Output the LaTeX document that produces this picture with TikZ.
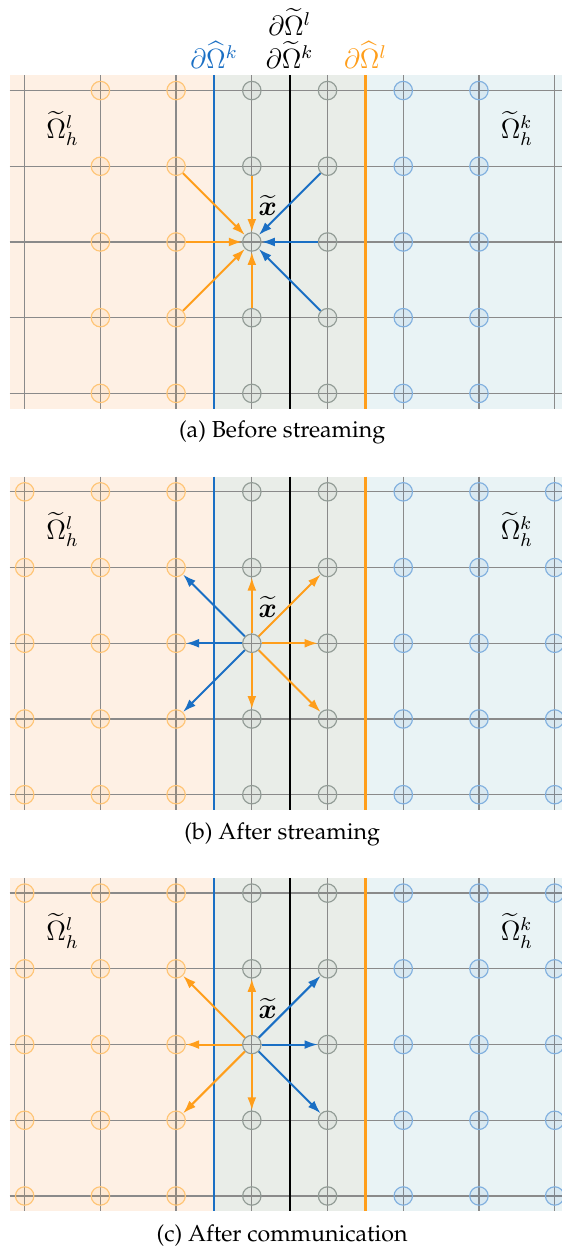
\documentclass[tikz,border=0pt]{standalone}
\usepackage[T1]{fontenc}
\renewcommand{\rmdefault}{ppl}
\usepackage{amsmath}
\usetikzlibrary{arrows.meta}

\definecolor{lorange}{HTML}{FF9E1B}
\definecolor{kblue}{HTML}{1A6FC4}
\definecolor{mgray}{HTML}{7F8A84}
\definecolor{lfill}{HTML}{FEF0E4}
\definecolor{mfill}{HTML}{E9EDE8}
\definecolor{kfill}{HTML}{E9F3F5}
\definecolor{gridgray}{HTML}{8A8A8A}

\tikzset{
  site/.style={circle, inner sep=0pt, minimum size=2.8mm, line width=0.5pt, fill opacity=0.08},
  lsite/.style={site, draw=lorange!60, fill=lorange},
  msite/.style={site, draw=mgray!85, fill=mgray},
  ksite/.style={site, draw=kblue!55, fill=kblue},
  col0/.style=lsite, col1/.style=lsite, col2/.style=lsite,
  col3/.style=msite, col4/.style=msite,
  col5/.style=ksite, col6/.style=ksite, col7/.style=ksite,
  gridline/.style={draw=gridgray, line width=0.55pt},
  iface/.style={line width=1pt},
  pop/.style={->, line width=0.85pt},
  lab/.style={inner sep=0pt, font=\large}
}

\begin{document}
\begin{tikzpicture}[x=1.15cm, y=1.15cm, >={Latex[length=2mm,width=1.35mm]}]
\useasboundingbox (-0.326,1.196) rectangle (7.085,-15.34);

% interface labels
\node[lab, text=kblue] (bk) at (2.5,0.47) {$\partial\widehat{\Omega}^{k}$};
\node[lab] (tk) at (3.5,0.47) {$\partial\widetilde{\Omega}^{k}$};
\node[lab] (tl) at (3.5,0.905) {$\partial\widetilde{\Omega}^{l}$};
\node[lab, text=lorange] (bl) at (4.5,0.47) {$\partial\widehat{\Omega}^{l}$};

\foreach \p/\dy/\cols/\cap in {a/0/{1,...,6}/Before streaming,
                               b/-5.3/{0,...,7}/After streaming,
                               c/-10.6/{0,...,7}/After communication}{
  \begin{scope}[shift={(0,\dy)}]
    \fill[lfill] (-0.2,0.2) rectangle (2.5,-4.2);
    \fill[mfill] (2.5,0.2) rectangle (4.5,-4.2);
    \fill[kfill] (4.5,0.2) rectangle (7.2,-4.2);
    \foreach \i in {0,...,7}
      \draw[gridline] (\i,0.2) -- (\i,-4.2);
    \foreach \j in {0,...,4}
      \draw[gridline] (-0.2,-\j) -- (7.2,-\j);
    \draw[iface, kblue] (2.5,0.2) -- (2.5,-4.2);
    \draw[iface, black] (3.5,0.2) -- (3.5,-4.2);
    \draw[iface, lorange] (4.5,0.2) -- (4.5,-4.2);
    \foreach \i in \cols
      \foreach \j in {0,...,4}
        \node[col\i] (\p-\i-\j) at (\i,-\j) {};
    \node[lab] (\p-l) at (0.5,-0.5) {$\widetilde{\Omega}^{l}_{h}$};
    \node[lab] (\p-k) at (6.5,-0.5) {$\widetilde{\Omega}^{k}_{h}$};
    \node[lab] (\p-x) at (3.21,-1.52) {$\widetilde{\boldsymbol{x}}$};
    \node (\p-cap) at (3.4,-4.52) {(\p) \cap};
  \end{scope}
}

% (a) before streaming
\foreach \s/\t in {2-1/3-2, 2-2/3-2, 2-3/3-2, 3-1/3-2, 3-3/3-2}
  \draw[pop, lorange] (a-\s) -- (a-\t);
\foreach \s in {4-1, 4-2, 4-3}
  \draw[pop, kblue] (a-\s) -- (a-3-2);

% (b) after streaming
\foreach \t in {2-1, 2-2, 2-3}
  \draw[pop, kblue] (b-3-2) -- (b-\t);
\foreach \t in {3-1, 3-3, 4-1, 4-2, 4-3}
  \draw[pop, lorange] (b-3-2) -- (b-\t);

% (c) after communication
\foreach \t in {2-1, 2-2, 2-3, 3-1, 3-3}
  \draw[pop, lorange] (c-3-2) -- (c-\t);
\foreach \t in {4-1, 4-2, 4-3}
  \draw[pop, kblue] (c-3-2) -- (c-\t);
\end{tikzpicture}
\end{document}
